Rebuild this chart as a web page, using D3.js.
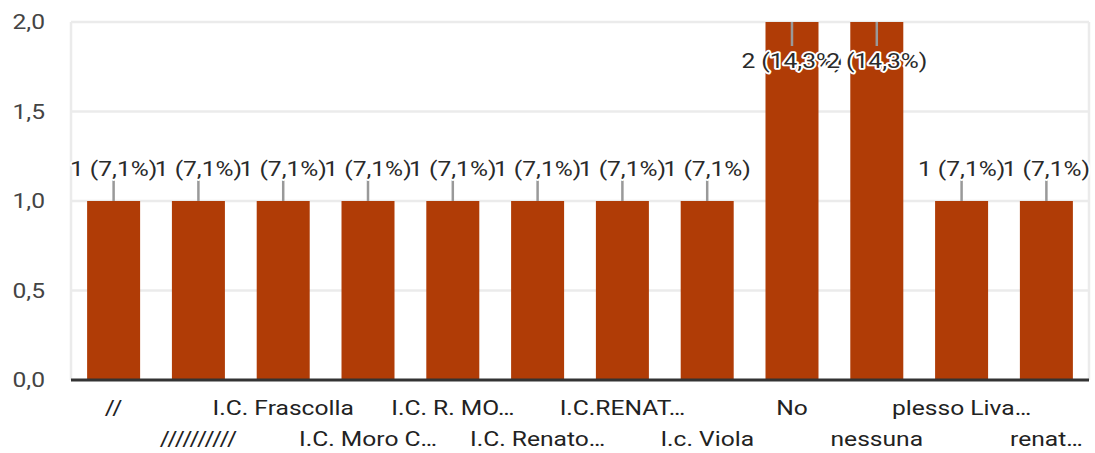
<!DOCTYPE html>
<html>
<head>
<meta charset="utf-8">
<script src="https://cdn.jsdelivr.net/npm/d3@7"></script>
<style>
	body{margin:0;background:#fff;}
	svg{font-family:Roboto,Arial,sans-serif;}
</style>
</head>
<body>
<div id="chart"></div>
<script>
// data
const categories = ['//','//////////','I.C. Frascolla','I.C. Moro C…','I.C. R. MO…','I.C. Renato…','I.C.RENAT…','I.c. Viola','No','nessuna','plesso Liva…','renat…'];
const counts = [1,1,1,1,1,1,1,1,2,2,1,1];
const percents = ['7,1%','7,1%','7,1%','7,1%','7,1%','7,1%','7,1%','7,1%','14,3%','14,3%','7,1%','7,1%'];
const yTicks = [0,0.5,1,1.5,2];

const width = 1095, height = 453;
const margin = {t:22,r:6,b:73,l:71};
const w = width - margin.l - margin.r;
const h = height - margin.t - margin.b;
const sx = 1.23; //text looks stretched sideways in the picture

const svg = d3.select('#chart').append('svg')
	.attr('width',width)
	.attr('height',height);

const plot = svg.append('g')
	.attr('transform',`translate(${margin.l},${margin.t})`);

const scaleX = d3.scaleBand().domain(categories).range([0,w]).paddingInner(0.375).paddingOuter(0.19);
const scaleY = d3.scaleLinear().domain([0,2]).range([h,0]);

const fmt = d => d3.format('.1f')(d).replace('.',',');

//grid
plot.selectAll('.grid')
	.data(yTicks.filter(d => d > 0))
	.enter().append('line')
	.attr('x1',0).attr('x2',w)
	.attr('y1',d => scaleY(d)).attr('y2',d => scaleY(d))
	.style('stroke','#ebebeb').style('stroke-width',2.5);
plot.selectAll('.vgrid')
	.data([0,w])
	.enter().append('line')
	.attr('x1',d => d).attr('x2',d => d)
	.attr('y1',scaleY(2)).attr('y2',h)
	.style('stroke','#ebebeb').style('stroke-width',2.5);

//y labels
plot.selectAll('.ylab')
	.data(yTicks)
	.enter().append('text')
	.attr('transform',d => `translate(-26,${scaleY(d) + 7}) scale(${sx},1)`)
	.attr('text-anchor','end')
	.style('font-size','20px')
	.style('fill','#444')
	.text(fmt);

//bars
plot.selectAll('.bin')
	.data(counts)
	.enter().append('rect')
	.attr('class','bin')
	.attr('x',(d,i) => scaleX(categories[i]))
	.attr('width',scaleX.bandwidth())
	.attr('y',d => scaleY(d))
	.attr('height',d => h - scaleY(d))
	.style('fill','#b03c06');

//baseline
plot.append('line')
	.attr('x1',0).attr('x2',w)
	.attr('y1',h).attr('y2',h)
	.style('stroke','#333').style('stroke-width',3);

//value labels
const labels = plot.selectAll('.val')
	.data(counts)
	.enter().append('g')
	.attr('transform',(d,i) => `translate(${scaleX(categories[i]) + scaleX.bandwidth()/2},${scaleY(d)})`);
labels.append('line')
	.attr('x1',0).attr('x2',0)
	.attr('y1',0)
	.attr('y2',d => d >= 2 ? 24 : -21)
	.style('stroke','#999').style('stroke-width',2.5);
labels.append('text')
	.attr('transform',d => `translate(0,${d >= 2 ? 46 : -25}) scale(${sx},1)`)
	.attr('text-anchor','middle')
	.style('font-size','20px')
	.style('fill','#2a2a2a')
	.style('stroke','#fff')
	.style('stroke-width',3.5)
	.style('stroke-linejoin','round')
	.style('paint-order','stroke')
	.text((d,i) => `${d} (${percents[i]})`);

//x labels
plot.selectAll('.xlab')
	.data(categories)
	.enter().append('text')
	.attr('transform',(d,i) => `translate(${scaleX(d) + scaleX.bandwidth()/2},${h + (i % 2 ? 66 : 35)}) scale(${sx},1)`)
	.attr('text-anchor','middle')
	.style('font-size','20px')
	.style('fill','#222')
	.text(d => d);
</script>
</body>
</html>
